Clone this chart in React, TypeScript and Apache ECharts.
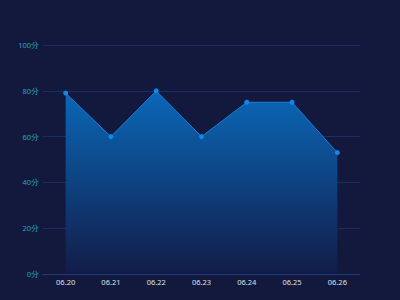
import React, { useEffect, useRef } from "react";
import * as echarts from "echarts";

const categories = ["06.20", "06.21", "06.22", "06.23", "06.24", "06.25", "06.26"];
const scores = [79, 60, 80, 60, 75, 75, 53];
const yTicks = [0, 20, 40, 60, 80, 100];

export default function App() {
  const ref = useRef<HTMLDivElement>(null);
  useEffect(() => {
    if (!ref.current) return;
    const chart = echarts.init(ref.current, undefined, { renderer: "svg" });
    chart.setOption({
      animation: false,
      backgroundColor: "#13193d",
      grid: { left: 43, right: 40, top: 45, bottom: 26 },
      xAxis: {
        type: "category",
        data: categories,
        boundaryGap: true,
        axisLine: { lineStyle: { color: "#1b3a7a" } },
        axisTick: { show: false },
        axisLabel: { color: "#dde2ec", fontSize: 7.5, margin: 4, fontFamily: "Noto Sans" },
      },
      yAxis: {
        type: "value",
        min: yTicks[0],
        max: yTicks[yTicks.length - 1],
        interval: 20,
        axisLine: { show: false },
        axisTick: { show: false },
        splitLine: { lineStyle: { color: "#1a2d66", width: 1 } },
        axisLabel: {
          color: "#26a6bf",
          fontSize: 7.5,
          margin: 4,
          fontFamily: "Noto Sans",
          formatter: (v: number) => v + "分",
        },
      },
      series: [
        {
          type: "line",
          data: scores,
          symbol: "circle",
          symbolSize: 5,
          itemStyle: { color: "#0f88ee" },
          lineStyle: { color: "#1a7cd8", width: 1 },
          areaStyle: {
            opacity: 1,
            color: new echarts.graphic.LinearGradient(0, 0, 0, 1, [
              { offset: 0, color: "#0a68b8" },
              { offset: 1, color: "#121c48" },
            ]),
          },
        },
      ],
    });
    return () => chart.dispose();
  }, []);
  return <div ref={ref} style={{ width: 400, height: 300, position: "fixed", left: 0, top: 0 }} />;
}
